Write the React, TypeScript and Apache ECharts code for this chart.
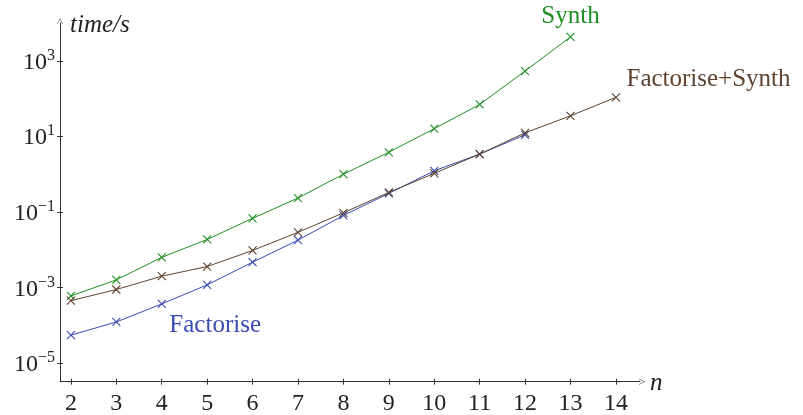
import React, { useEffect, useRef } from "react";
import * as echarts from "echarts";

const nValues = [2, 3, 4, 5, 6, 7, 8, 9, 10, 11, 12, 13, 14];
const factorise = [5.5e-5, 1.23e-4, 3.7e-4, 1.18e-3, 4.7e-3, 0.018, 0.081, 0.31, 1.23, 3.4, 11];
const synth = [6e-4, 1.6e-3, 6.3e-3, 0.0188, 0.068, 0.234, 1.0, 3.8, 16, 70, 535, 4300];
const factoriseSynth = [4.5e-4, 8.9e-4, 2.0e-3, 3.6e-3, 9.6e-3, 0.029, 0.095, 0.33, 1.05, 3.4, 12.4, 35, 108];
const yTicks = [1e-5, 1e-3, 1e-1, 1e1, 1e3];

const FONT = "'Liberation Serif', 'DejaVu Serif', serif";
const BLUE = "#3a4cb0";
const GREEN = "#1f8f24";
const BROWN = "#5e4330";
const AXIS = "#333333";
const TXT = "#222222";
const CROSS = "path://M0,0 L10,10 M10,0 L0,10";
const ARROW = "path://M0,10 L5,0 L10,10 L9.2,10 L5,1.8 L0.8,10 Z";
const X_MIN = 1.76;
const X_MAX = 14.53;
const Y_MIN = Math.pow(10, -5.49);
const Y_MAX = 1e4;

function toPairs(vals: number[]) {
  return vals.map((v, i) => [nValues[i], v]);
}

export default function App() {
  const ref = useRef<HTMLDivElement>(null);
  useEffect(() => {
    if (!ref.current) return;
    const chart = echarts.init(ref.current, null, { renderer: "svg" });
    const mkSeries = (name: string, vals: number[], color: string, z: number, labelIdx: number, label: any) => ({
      name,
      type: "line",
      z,
      data: toPairs(vals).map((p, i) =>
        i === labelIdx
          ? { value: p, label: { show: true, formatter: name, color, fontFamily: FONT, fontSize: 25, ...label } }
          : p
      ),
      symbol: CROSS,
      symbolSize: 8,
      showSymbol: true,
      lineStyle: { color, width: 1 },
      itemStyle: { color: "transparent", borderColor: color, borderWidth: 1.1 },
      emphasis: { disabled: true },
    });
    chart.setOption({
      animation: false,
      grid: { left: 60, right: 803 - 640, top: 23, bottom: 415 - 381.7, containLabel: false },
      xAxis: [
        {
          type: "value",
          min: X_MIN,
          max: X_MAX,
          name: "n",
          nameLocation: "end",
          nameGap: 10,
          nameTextStyle: { fontFamily: FONT, fontSize: 25, fontStyle: "italic", color: TXT, verticalAlign: "middle", padding: [0, 0, 6, 0] },
          splitLine: { show: false },
          axisLine: { lineStyle: { color: AXIS, width: 1 }, symbol: ["none", ARROW], symbolSize: [6, 8], symbolOffset: [0, 2] },
          axisTick: { show: true, length: 3, lineStyle: { color: AXIS }, customValues: nValues },
          axisLabel: { customValues: nValues, fontFamily: FONT, fontSize: 24, color: TXT, margin: 8 },
        },
        {
          type: "value",
          position: "bottom",
          min: X_MIN,
          max: X_MAX,
          splitLine: { show: false },
          axisLine: { show: false },
          axisTick: { show: true, inside: true, length: 3, lineStyle: { color: AXIS }, customValues: nValues },
          axisLabel: { show: false },
        },
      ],
      yAxis: [
        {
          type: "log",
          logBase: 10,
          min: Y_MIN,
          max: Y_MAX,
          name: "time/s",
          nameLocation: "end",
          nameGap: 0,
          nameTextStyle: { fontFamily: FONT, fontSize: 25, fontStyle: "italic", color: TXT, align: "left", verticalAlign: "middle", padding: [0, 0, 0, 10] },
          splitLine: { show: false },
          axisLine: { show: true, lineStyle: { color: AXIS, width: 1 }, symbol: ["none", ARROW], symbolSize: [6, 8], symbolOffset: [0, 2] },
          axisTick: { show: true, length: 3, lineStyle: { color: AXIS }, customValues: yTicks },
          axisLabel: {
            customValues: yTicks,
            margin: 5,
            formatter: (v: number) => {
              const e = Math.round(Math.log10(v));
              return "{b|10}{s|" + (e < 0 ? "\u2212" + -e : String(e)) + "}";
            },
            rich: {
              b: { fontFamily: FONT, fontSize: 24, color: TXT },
              s: { fontFamily: FONT, fontSize: 16, color: TXT, padding: [0, 0, 13, 0] },
            },
          },
        },
        {
          type: "log",
          logBase: 10,
          position: "left",
          min: Y_MIN,
          max: Y_MAX,
          splitLine: { show: false },
          axisLine: { show: false },
          axisTick: { show: true, inside: true, length: 3, lineStyle: { color: AXIS }, customValues: yTicks },
          axisLabel: { show: false },
        },
      ],
      series: [
        mkSeries("Factorise", factorise, BLUE, 2, 3, { position: "bottom", distance: 22, offset: [8, 0] }),
        mkSeries("Synth", synth, GREEN, 3, 11, { position: "top", distance: 5 }),
        mkSeries("Factorise+Synth", factoriseSynth, BROWN, 4, 12, { position: "right", distance: 6, offset: [0, -20] }),
      ],
    });
    return () => chart.dispose();
  }, []);
  return <div ref={ref} style={{ position: "fixed", left: 0, top: 0, width: 803, height: 415 }} />;
}
